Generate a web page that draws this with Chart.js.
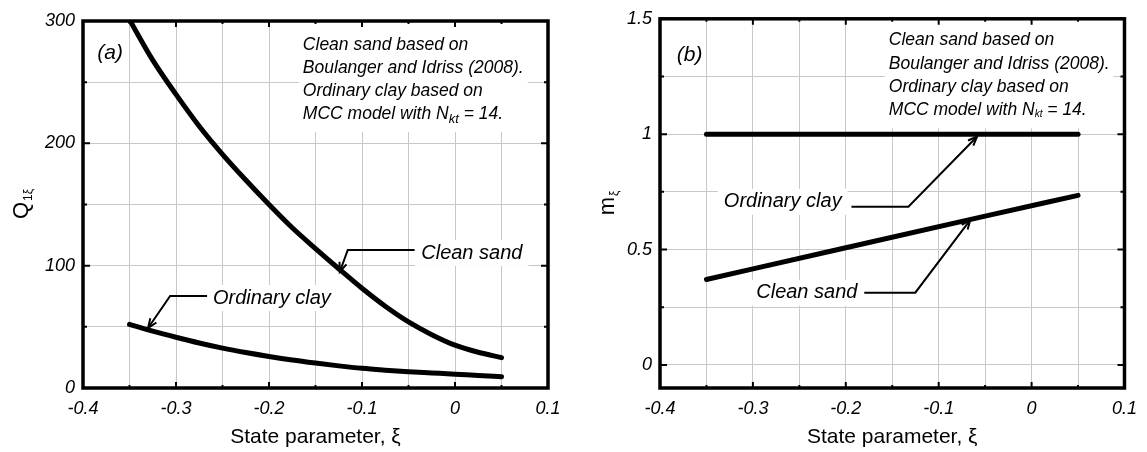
<!DOCTYPE html>
<html><head><meta charset="utf-8">
<script src="https://cdn.jsdelivr.net/npm/chart.js@4"></script>
<style>
html,body{margin:0;padding:0;background:#fff;}
#wrap{position:relative;width:1147px;height:452px;overflow:hidden;background:#fff;}
.panel{position:absolute;top:0;height:452px;}
</style></head><body>
<div id="wrap">
<div class="panel" style="left:0;width:573px"><canvas id="cA" width="573" height="452"></canvas></div>
<div class="panel" style="left:573px;width:574px"><canvas id="cB" width="574" height="452"></canvas></div>
</div>
<script>
// ---------- data ----------
const xiA = [-0.35,-0.325,-0.3,-0.275,-0.25,-0.225,-0.2,-0.175,-0.15,-0.125,-0.1,-0.075,-0.05,-0.025,0,0.025,0.05];
const sandQ = [301,268,240,214,191,170,150,131,114,97.5,81.5,66.8,54,43.6,35,29.2,24.8];
const clayQ = [52,46.5,41.5,36.8,32.6,29,25.8,22.9,20.4,18.1,16.1,14.6,13.3,12.3,11.3,10.2,9.2];
const xiB = [-0.35,-0.2,-0.05,0.05];
const sandM = [0.37,0.508,0.645,0.735];
const clayM = [1,1,1,1];
const xTickLabels = ['-0.4','-0.3','-0.2','-0.1','0','0.1'];
const yTickLabelsA = ['0','100','200','300'];
const yTickLabelsB = ['0','0.5','1','1.5'];
const noteLines = ['Clean sand based on','Boulanger and Idriss (2008).','Ordinary clay based on','MCC model with N'];

const FAM = "'Liberation Sans', Arial, Helvetica, sans-serif";
const GRID = '#c8c8c8';

function fmt(v){ const r = Math.round(v*100)/100; return String(r === 0 ? 0 : r); }
function pts(xs, ys){ return xs.map((x,i)=>({x:x,y:ys[i]})); }

function arrowPath(ctx, P){
  ctx.beginPath();
  ctx.moveTo(P[0][0],P[0][1]);
  for(let i=1;i<P.length;i++) ctx.lineTo(P[i][0],P[i][1]);
  ctx.stroke();
  const a=P[P.length-2], b=P[P.length-1];
  const ang=Math.atan2(b[1]-a[1], b[0]-a[0]);
  const L=10, sp=0.38;
  ctx.beginPath();
  ctx.moveTo(b[0]-L*Math.cos(ang-sp), b[1]-L*Math.sin(ang-sp));
  ctx.lineTo(b[0],b[1]);
  ctx.lineTo(b[0]-L*Math.cos(ang+sp), b[1]-L*Math.sin(ang+sp));
  ctx.stroke();
}

const annot = {
  id:'annot',
  beforeDatasetsDraw(chart, args, o){
    const ctx=chart.ctx, X=v=>chart.scales.x.getPixelForValue(v), Y=v=>chart.scales.y.getPixelForValue(v);
    ctx.save();
    ctx.fillStyle='#000';
    ctx.textBaseline='middle';
    const bx=X(o.block.x), by=Y(o.block.y), g=o.block.gap;
    ctx.font='italic 17.5px '+FAM;
    let maxW=0; noteLines.forEach(t=>maxW=Math.max(maxW,ctx.measureText(t).width));
    ctx.fillStyle='#fff';
    ctx.fillRect(bx-4, by-g, maxW+8, g*3+18+g);
    ctx.font='italic 20px '+FAM;
    o.labels.forEach(l=>{
      const w=ctx.measureText(l.text).width;
      ctx.fillRect(X(l.x)-6, Y(l.y)-13, w+12, 26);
    });
    ctx.fillStyle='#000';
    o.labels.forEach(l=>{ ctx.fillText(l.text, X(l.x), Y(l.y)); });
    ctx.font='italic 21px '+FAM;
    ctx.fillText(o.letter.text, X(o.letter.x), Y(o.letter.y));
    ctx.font='italic 17.5px '+FAM;
    noteLines.forEach((t,i)=>{ ctx.fillText(t, bx, by+i*g); });
    const wN=ctx.measureText(noteLines[3]).width;
    ctx.font='italic '+o.subSize+'px '+FAM;
    const wk=ctx.measureText('kt').width;
    ctx.fillText('kt', bx+wN, by+3*g+o.subDrop);
    ctx.font='italic 17.5px '+FAM;
    ctx.fillText(' = 14.', bx+wN+wk, by+3*g);
    ctx.restore();
  },
  afterDatasetsDraw(chart, args, o){
    const ctx=chart.ctx, X=v=>chart.scales.x.getPixelForValue(v), Y=v=>chart.scales.y.getPixelForValue(v);
    ctx.save();
    ctx.strokeStyle='#000'; ctx.lineWidth=2; ctx.lineJoin='miter';
    o.labels.forEach(l=>{ arrowPath(ctx, l.leader.map(p=>[X(p[0]),Y(p[1])])); });
    ctx.restore();
  },
  afterDraw(chart, args, o){
    const ctx=chart.ctx, a=chart.chartArea;
    ctx.save();
    ctx.strokeStyle='#000';
    ctx.lineWidth=2;
    const xs=chart.scales.x, ys=chart.scales.y;
    xs.ticks.forEach(t=>{
      const px=xs.getPixelForValue(t.value); const major=xTickLabels.includes(fmt(t.value));
      const L=major?6:3;
      ctx.beginPath(); ctx.moveTo(px,a.bottom); ctx.lineTo(px,a.bottom-L); ctx.moveTo(px,a.top); ctx.lineTo(px,a.top+L); ctx.stroke();
    });
    ys.ticks.forEach(t=>{
      const py=ys.getPixelForValue(t.value); const major=o.yLabels.includes(fmt(t.value));
      const L=major?7:4;
      ctx.beginPath(); ctx.moveTo(a.left,py); ctx.lineTo(a.left+L,py); ctx.moveTo(a.right,py); ctx.lineTo(a.right-L,py); ctx.stroke();
    });
    ctx.lineWidth=3.5;
    ctx.strokeRect(a.left,a.top,a.right-a.left,a.bottom-a.top);
    ctx.fillStyle='#000';
    ctx.font='21px '+FAM; ctx.textAlign='center'; ctx.textBaseline='middle';
    ctx.fillText('State parameter, \u03BE', (a.left+a.right)/2, 437);
    ctx.translate(o.yTitle.x, (a.top+a.bottom)/2);
    ctx.rotate(-Math.PI/2);
    ctx.textAlign='left'; ctx.textBaseline='alphabetic';
    ctx.font='22px '+FAM; const w1=ctx.measureText(o.yTitle.main).width;
    ctx.font='12px '+FAM; const w2=ctx.measureText(o.yTitle.sub).width;
    const x0=-(w1+w2)/2;
    ctx.font='22px '+FAM; ctx.fillText(o.yTitle.main, x0, 8);
    ctx.font='12px '+FAM; ctx.fillText(o.yTitle.sub, x0+w1+1, 12);
    ctx.restore();
  }
};

function build(id, opt){
  return new Chart(document.getElementById(id), {
    type:'scatter',
    data:{datasets: opt.series.map(s=>({data:s, showLine:true, borderColor:'#000', backgroundColor:'#000', borderWidth:5, pointRadius:0, borderCapStyle:'round', cubicInterpolationMode:'monotone'}))},
    options:{
      responsive:false, animation:false, devicePixelRatio:1,
      layout:{padding:opt.pad},
      plugins:{legend:{display:false}, tooltip:{enabled:false}, annot:opt.annot},
      scales:{
        x:{type:'linear', min:-0.4, max:0.1,
           grid:{color:GRID, lineWidth:1, drawTicks:false}, border:{display:false},
           ticks:{stepSize:0.05, autoSkip:false, maxRotation:0, maxTicksLimit:30, padding:10, color:'#000',
                  font:{family:FAM, size:18, style:'italic'},
                  callback:v=>{const s=fmt(v); return xTickLabels.includes(s)?s:'';}},
           afterFit:s=>{s.height=opt.xH;}},
        y:{type:'linear', min:opt.ymin, max:opt.ymax,
           grid:{color:GRID, lineWidth:1, drawTicks:false}, border:{display:false},
           ticks:{stepSize:opt.ystep, autoSkip:false, maxTicksLimit:30, padding:8, color:'#000',
                  font:{family:FAM, size:18, style:'italic'},
                  callback:v=>{const s=fmt(v); return opt.yLabels.includes(s)?s:'';}},
           afterFit:s=>{s.width=opt.yW;}}
      }
    },
    plugins:[annot]
  });
}

const chA = build('cA', {
  series:[pts(xiA,sandQ), pts(xiA,clayQ)],
  pad:{left:0,right:25,top:21,bottom:0}, xH:64, yW:83,
  ymin:0, ymax:300, ystep:50, yLabels:yTickLabelsA,
  annot:{
    yLabels:yTickLabelsA,
    yTitle:{x:20, main:'Q', sub:'1\u03BE'},
    letter:{text:'(a)', x:-0.3847, y:273.8},
    block:{x:-0.1636, y:280.4, gap:23},
    subSize:13, subDrop:5,
    labels:[
      {text:'Clean sand', x:-0.0363, y:110.4, leader:[[-0.0434,112.8],[-0.1153,112.8],[-0.1239,95]]},
      {text:'Ordinary clay', x:-0.2602, y:73.6, leader:[[-0.2666,75.2],[-0.3063,75.2],[-0.33,49]]}
    ]
  }
});

const chB = build('cB', {
  series:[pts(xiB,clayM), pts(xiB,sandM)],
  pad:{left:0,right:15,top:15,bottom:0}, xH:64, yW:87,
  ymin:-0.1, ymax:1.5, ystep:0.25, yLabels:yTickLabelsB,
  annot:{
    yLabels:yTickLabelsB,
    yTitle:{x:33, main:'m', sub:'\u03BE'},
    letter:{text:'(b)', x:-0.382, y:1.342},
    block:{x:-0.1537, y:1.406, gap:23.3},
    subSize:10, subDrop:4,
    labels:[
      {text:'Ordinary clay', x:-0.3313, y:0.707, leader:[[-0.1939,0.686],[-0.1326,0.686],[-0.0586,0.99]]},
      {text:'Clean sand', x:-0.2964, y:0.313, leader:[[-0.1801,0.313],[-0.1252,0.313],[-0.066,0.629]]}
    ]
  }
});
</script>
</body></html>
